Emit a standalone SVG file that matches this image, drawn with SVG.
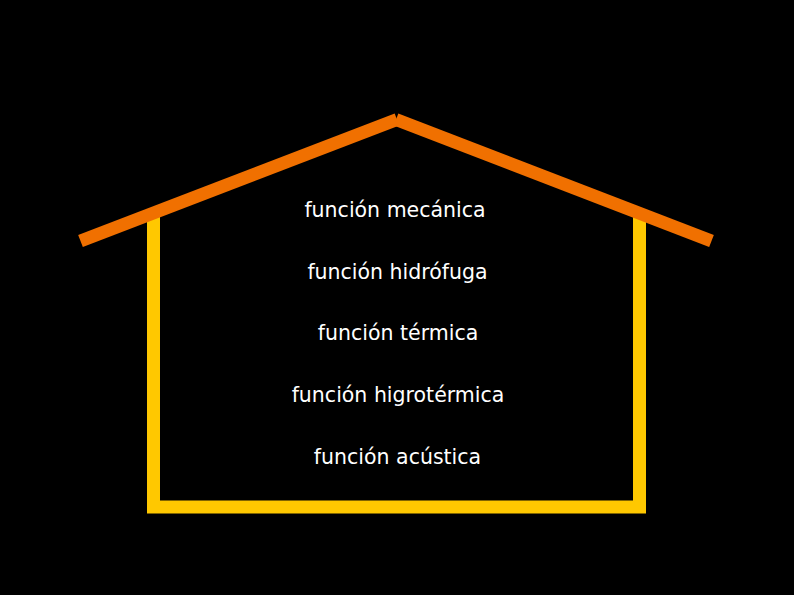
<svg xmlns="http://www.w3.org/2000/svg" width="794" height="595" viewBox="0 0 794 595">
<style>
.wall{fill:none;stroke:#ffc800;stroke-width:13;stroke-linejoin:miter}
.roof{fill:none;stroke:#f07000;stroke-width:13;stroke-linecap:butt}
.lbl{font-family:"DejaVu Sans",Verdana,sans-serif;font-size:20.5px;fill:#ffffff;text-anchor:middle}
</style>
<rect width="794" height="595" fill="#000"/>
<g id="walls">
<polyline class="wall" points="153.5,212 153.5,507 639.5,507 639.5,212"/>
</g>
<g id="roof">
<line class="roof" x1="80.5" y1="241" x2="397" y2="119.5"/>
<line class="roof" x1="396" y1="119.5" x2="711.5" y2="241"/>
</g>
<g id="labels">
<text class="lbl" x="395" y="217">función mecánica</text>
<text class="lbl" x="397.5" y="278.5">función hidrófuga</text>
<text class="lbl" x="398" y="340">función térmica</text>
<text class="lbl" x="398" y="402">función higrotérmica</text>
<text class="lbl" x="397.5" y="463.5">función acústica</text>
</g>
</svg>
